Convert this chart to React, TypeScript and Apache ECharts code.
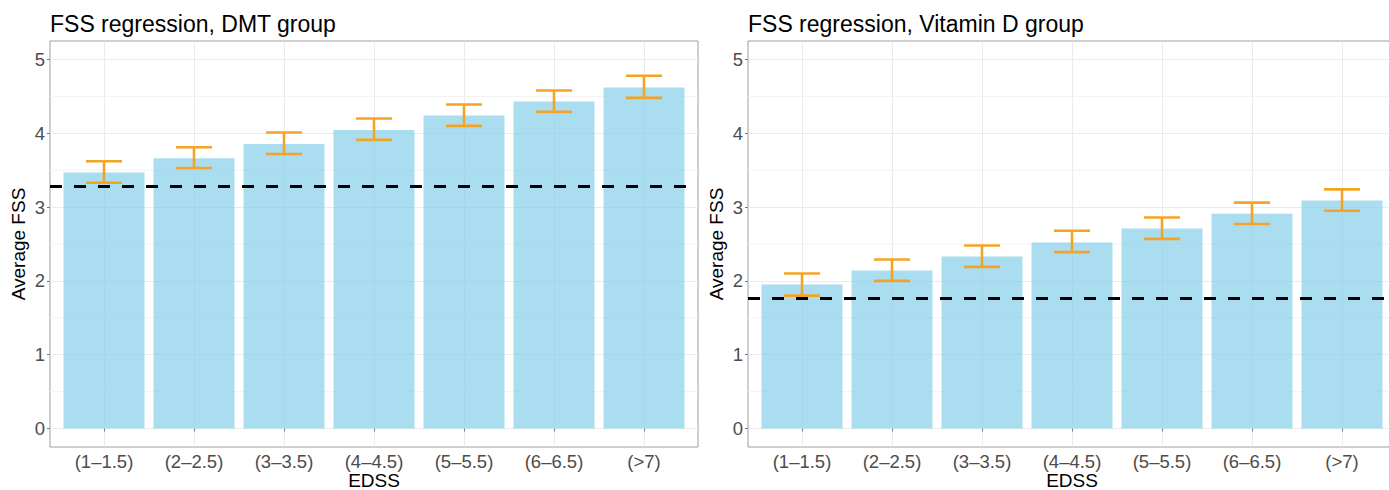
import React, { useEffect, useRef } from "react";
import * as echarts from "echarts";

const CATEGORIES = ["(1–1.5)", "(2–2.5)", "(3–3.5)", "(4–4.5)", "(5–5.5)", "(6–6.5)", "(>7)"];

const DMT_MEAN = [3.47, 3.66, 3.855, 4.045, 4.24, 4.43, 4.62];
const DMT_LOWER = [3.33, 3.53, 3.72, 3.91, 4.1, 4.29, 4.48];
const DMT_UPPER = [3.62, 3.81, 4.01, 4.2, 4.39, 4.58, 4.78];
const DMT_REF = 3.28;

const VITD_MEAN = [1.95, 2.14, 2.33, 2.52, 2.71, 2.91, 3.09];
const VITD_LOWER = [1.8, 2.0, 2.19, 2.39, 2.57, 2.77, 2.95];
const VITD_UPPER = [2.1, 2.29, 2.48, 2.68, 2.86, 3.06, 3.24];
const VITD_REF = 1.77;

const Y_TICKS = [0, 1, 2, 3, 4, 5];
const Y_MINOR = [0.5, 1.5, 2.5, 3.5, 4.5];
const X_TICKS = [1, 2, 3, 4, 5, 6, 7];

const TITLES = ["FSS regression, DMT group", "FSS regression, Vitamin D group"];
const X_NAME = "EDSS";
const Y_NAME = "Average FSS";

const FONT = "'Liberation Sans', Arial, Helvetica, sans-serif";
const BAR_FILL = "rgba(135,206,235,0.7)";
const ERR_COLOR = "#F4A425";
const X_MIN = 0.4;
const X_MAX = 7.6;
const Y_MIN = -0.25;
const Y_MAX = 5.25;

function makeAxes(gridIndex: number) {
  const xAxis = {
    type: "value",
    gridIndex,
    min: X_MIN,
    max: X_MAX,
    minInterval: 1,
    maxInterval: 1,
    splitNumber: 7,
    name: X_NAME,
    nameLocation: "middle",
    nameGap: 24,
    nameMoveOverlap: false,
    nameTextStyle: { color: "#000", fontSize: 19, fontFamily: FONT },
    axisLine: { show: false },
    axisTick: {
      show: true,
      length: 3,
      customValues: X_TICKS,
      lineStyle: { color: "#777", width: 1 },
    },
    axisLabel: {
      color: "#4D4D4D",
      fontSize: 18.5,
      fontFamily: FONT,
      margin: 5,
      customValues: X_TICKS,
      formatter: (v: number) => (Number.isInteger(v) && CATEGORIES[v - 1]) || "",
    },
    splitLine: { show: true, lineStyle: { color: "#EBEBEB", width: 1 } },
  };
  const yAxis = {
    type: "value",
    gridIndex,
    min: Y_MIN,
    max: Y_MAX,
    minInterval: 1,
    maxInterval: 1,
    splitNumber: 5,
    name: Y_NAME,
    nameLocation: "middle",
    nameGap: 22,
    nameMoveOverlap: false,
    nameTextStyle: { color: "#000", fontSize: 19, fontFamily: FONT },
    axisLine: { show: false },
    axisTick: {
      show: true,
      length: 3,
      customValues: Y_TICKS,
      lineStyle: { color: "#777", width: 1 },
    },
    axisLabel: {
      color: "#4D4D4D",
      fontSize: 18.5,
      fontFamily: FONT,
      margin: 5,
      customValues: Y_TICKS,
      formatter: (v: number) => (Number.isInteger(v) ? String(v) : ""),
    },
    splitLine: { show: true, lineStyle: { color: "#EBEBEB", width: 1 } },
  };
  return { xAxis, yAxis };
}

function makeSeries(idx: number, mean: number[], lower: number[], upper: number[], ref: number) {
  const minorSeries = {
    type: "custom",
    xAxisIndex: idx,
    yAxisIndex: idx,
    z: 1,
    silent: true,
    data: Y_MINOR.map((y) => [y]),
    renderItem: (_p: any, api: any) => {
      const y = api.value(0);
      const a = api.coord([X_MIN, y]);
      const b = api.coord([X_MAX, y]);
      return {
        type: "line",
        shape: { x1: a[0], y1: a[1], x2: b[0], y2: b[1] },
        style: { stroke: "#F2F2F2", lineWidth: 1 },
      };
    },
  };
  const barSeries = {
    type: "custom",
    xAxisIndex: idx,
    yAxisIndex: idx,
    z: 2,
    data: mean.map((v, i) => [X_TICKS[i], v]),
    renderItem: (_p: any, api: any) => {
      const x = api.value(0);
      const v = api.value(1);
      const p0 = api.coord([x - 0.45, v]);
      const p1 = api.coord([x + 0.45, 0]);
      return {
        type: "rect",
        shape: { x: p0[0], y: p0[1], width: p1[0] - p0[0], height: p1[1] - p0[1] },
        style: { fill: BAR_FILL },
      };
    },
  };
  const errSeries = {
    type: "custom",
    xAxisIndex: idx,
    yAxisIndex: idx,
    z: 3,
    data: lower.map((lo, i) => [X_TICKS[i], lo, upper[i]]),
    renderItem: (_p: any, api: any) => {
      const x = api.value(0);
      const lo = api.coord([x, api.value(1)]);
      const hi = api.coord([x, api.value(2)]);
      const hw = api.size([0.4, 0])[0] / 2;
      const st = { stroke: ERR_COLOR, lineWidth: 2.6 };
      return {
        type: "group",
        children: [
          { type: "line", shape: { x1: lo[0], y1: lo[1], x2: hi[0], y2: hi[1] }, style: st },
          { type: "line", shape: { x1: lo[0] - hw, y1: lo[1], x2: lo[0] + hw, y2: lo[1] }, style: st },
          { type: "line", shape: { x1: hi[0] - hw, y1: hi[1], x2: hi[0] + hw, y2: hi[1] }, style: st },
        ],
      };
    },
    markLine: {
      silent: true,
      symbol: "none",
      z: 10,
      label: { show: false },
      lineStyle: { color: "#000", width: 3, type: [12, 12] },
      data: [{ yAxis: ref }],
    },
  };
  return [minorSeries, barSeries, errSeries];
}

export default function App() {
  const ref = useRef<HTMLDivElement>(null);
  useEffect(() => {
    if (!ref.current) return;
    const chart = echarts.init(ref.current, undefined, { renderer: "svg" });
    const a0 = makeAxes(0);
    const a1 = makeAxes(1);
    const titleStyle = { fontSize: 23, fontWeight: "normal", color: "#000", fontFamily: FONT };
    const gridBase = {
      top: 41,
      width: 648,
      height: 406,
      show: true,
      borderColor: "#9E9E9E",
      borderWidth: 1,
      backgroundColor: "transparent",
      containLabel: false,
      outerBoundsMode: "none",
    };
    chart.setOption({
      animation: false,
      backgroundColor: "#fff",
      textStyle: { fontFamily: FONT },
      title: [
        { text: TITLES[0], left: 50, top: 12, padding: 0, textStyle: titleStyle },
        { text: TITLES[1], left: 748, top: 12, padding: 0, textStyle: titleStyle },
      ],
      grid: [
        { ...gridBase, left: 50 },
        { ...gridBase, left: 748 },
      ],
      xAxis: [a0.xAxis, a1.xAxis],
      yAxis: [a0.yAxis, a1.yAxis],
      series: [
        ...makeSeries(0, DMT_MEAN, DMT_LOWER, DMT_UPPER, DMT_REF),
        ...makeSeries(1, VITD_MEAN, VITD_LOWER, VITD_UPPER, VITD_REF),
      ],
    });
    return () => chart.dispose();
  }, []);
  return (
    <div
      ref={ref}
      style={{ position: "fixed", left: 0, top: 0, width: 1389, height: 490, background: "#fff" }}
    />
  );
}
